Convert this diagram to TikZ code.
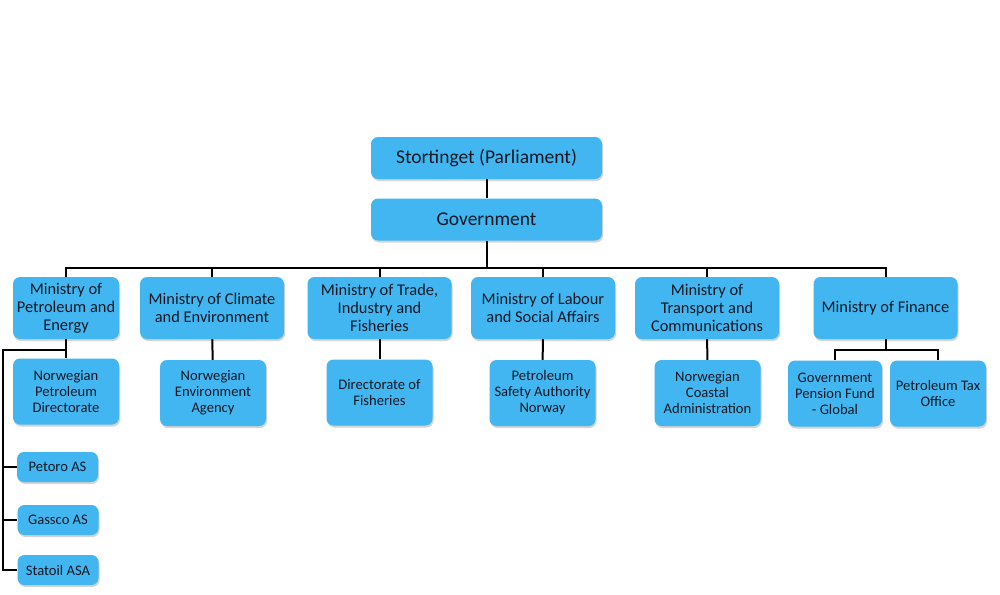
\documentclass[tikz,border=0pt]{standalone}
\usepackage{fontspec}
\setmainfont{Carlito}
\usetikzlibrary{shadows}
\definecolor{orgblue}{RGB}{65,182,240}
\definecolor{orgtext}{RGB}{20,24,36}
\begin{document}
\begin{tikzpicture}[x=1pt,y=-1pt,
    orgbox/.style={fill=orgblue, rounded corners=7pt, align=center, inner sep=1pt, text=orgtext,
        drop shadow={shadow xshift=1pt, shadow yshift=-2pt, opacity=0.35}},
    topbox/.style={orgbox, minimum width=231pt, minimum height=42pt, font=\fontsize{19.5}{22}\selectfont},
    minbox/.style={orgbox, minimum width=144pt, minimum height=62pt, font=\fontsize{16.4}{18}\selectfont},
    subbox/.style={orgbox, minimum width=106pt, minimum height=66pt, font=\fontsize{14.6}{16}\selectfont},
    cobox/.style={orgbox, minimum width=81pt, minimum height=30pt, font=\fontsize{14.6}{16}\selectfont},
    link/.style={line width=2pt}]
    \useasboundingbox (0,0) rectangle (1000,594);
    % top levels
    \node[topbox] (storting) at (486.5,158) {Stortinget (Parliament)};
    \node[topbox] (gov) at (486.5,219.5) {Government};
    % ministries
    \node[minbox, minimum width=106pt] (mpe) at (66,308) {Ministry of\\Petroleum and\\Energy};
    \node[minbox] (mce) at (212,308) {Ministry of Climate\\and Environment};
    \node[minbox] (mtif) at (379.5,308) {Ministry of Trade,\\Industry and\\Fisheries};
    \node[minbox] (mlsa) at (543,308) {Ministry of Labour\\and Social Affairs};
    \node[minbox] (mtc) at (707,308) {Ministry of\\Transport and\\Communications};
    \node[minbox] (mof) at (885.5,308) {Ministry of Finance};
    % agencies
    \node[subbox] (npd) at (66,391.5) {Norwegian\\Petroleum\\Directorate};
    \node[subbox] (nea) at (213,393) {Norwegian\\Environment\\Agency};
    \node[subbox] (dof) at (379.5,392.5) {Directorate of\\Fisheries};
    \node[subbox] (psa) at (542.5,393) {Petroleum\\Safety Authority\\Norway};
    \node[subbox] (nca) at (707.5,393) {Norwegian\\Coastal\\Administration};
    \node[subbox, minimum width=94pt] (gpfg) at (835,393.5) {Government\\Pension Fund\\- Global};
    \node[subbox, minimum width=96pt] (pto) at (938,393.5) {Petroleum Tax\\Office};
    % state companies
    \node[cobox] (petoro) at (57.5,467) {Petoro AS};
    \node[cobox] (gassco) at (58,520) {Gassco AS};
    \node[cobox] (statoil) at (58,570) {Statoil ASA};
    % connectors
    \coordinate (bus) at (486.5,268);
    \coordinate (mpefork) at (66,350);
    \coordinate (moffork) at (885.5,350);
    \coordinate (rail) at (3,350);
    \draw[link] (storting) -- (gov);
    \draw[link] (gov) -- (bus);
    \draw[link] (mpe.north) -- (mpe.north |- bus) -- (mof.north |- bus) -- (mof.north);
    \foreach \m in {mce,mtif,mlsa,mtc}
        \draw[link] (\m.north) -- (\m.north |- bus);
    \draw[link] (mce) -- (nea);
    \draw[link] (mtif) -- (dof);
    \draw[link] (mlsa) -- (psa);
    \draw[link] (mtc) -- (nca);
    \draw[link] (mpe) -- (npd);
    \draw[link] (mpefork) -- (rail) -- (rail |- statoil) -- (statoil);
    \draw[link] (rail |- petoro) -- (petoro);
    \draw[link] (rail |- gassco) -- (gassco);
    \draw[link] (mof) -- (moffork);
    \draw[link] (gpfg.north) -- (gpfg.north |- moffork) -- (pto.north |- moffork) -- (pto.north);
\end{tikzpicture}
\end{document}
